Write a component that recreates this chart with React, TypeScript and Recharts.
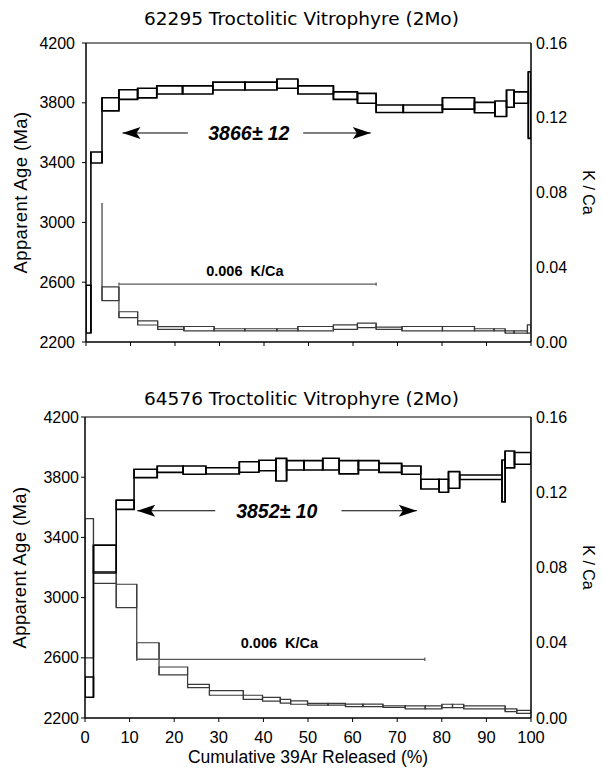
import React from "react";
import {
  ComposedChart,
  XAxis,
  YAxis,
  ReferenceArea,
  ReferenceLine,
  ReferenceDot,
  Label,
} from "recharts";

const FONT = "'Liberation Sans', Arial, sans-serif";
const TITLE_FONT = "'DejaVu Sans', Verdana, sans-serif";

const X_TICKS = [0, 10, 20, 30, 40, 50, 60, 70, 80, 90, 100];
const AGE_TICKS = [2200, 2600, 3000, 3400, 3800, 4200];
const KCA_TICKS = [0, 0.04, 0.08, 0.12, 0.16];

// 62295 - step boundaries (cumulative %), ages (Ma) and errors
const TOP_AGE_X = [0, 1.1, 3.6, 7.4, 11.6, 15.9, 21.7, 28.5, 35.7, 42.9, 47.6, 55.6, 61.0, 65.2, 71.3, 80.1, 87.3, 91.9, 94.5, 96.2, 99.4, 100];
const TOP_AGE = [2420, 3434, 3790, 3855, 3865, 3886, 3886, 3912, 3912, 3928, 3886, 3848, 3830, 3760, 3760, 3796, 3768, 3760, 3828, 3835, 3785];
const TOP_AGE_ERR = [160, 37, 44, 32, 32, 27, 27, 26, 26, 31, 27, 25, 33, 25, 25, 38, 35, 52, 58, 38, 223];
const TOP_KCA_X = [0, 1.1, 3.6, 7.4, 11.6, 16.1, 22.0, 28.8, 35.7, 42.9, 47.6, 55.6, 61.0, 65.2, 71.0, 80.1, 87.3, 91.7, 94.2, 96.2, 99.2, 100];
const TOP_KCA = [null, null, 0.0258, 0.0146, 0.0102, 0.0075, 0.0071, 0.0065, 0.0065, 0.0065, 0.0071, 0.008, 0.0089, 0.0074, 0.0071, 0.0071, 0.0065, 0.0065, 0.0054, 0.0054, 0.007];
const TOP_KCA_ERR = [0, 0, 0.0037, 0.0016, 0.0011, 0.0007, 0.0012, 0.0006, 0.0006, 0.0006, 0.0012, 0.0012, 0.0012, 0.0006, 0.0012, 0.0012, 0.0006, 0.0006, 0.0006, 0.0006, 0.0022];
// off-scale first steps: [x, low, high] on the K/Ca axis
const TOP_KCA_SPIKES = [[3.6, 0.0221, 0.0744]];

// 64576
const BOT_AGE_X = [0, 1.9, 7.0, 11.0, 16.2, 22.0, 27.1, 34.6, 39.0, 42.8, 45.2, 49.1, 53.3, 57.0, 61.3, 65.9, 71.0, 75.3, 79.4, 81.5, 84.0, 93.5, 94.2, 96.3, 100];
const BOT_AGE = [2405, 3256, 3617, 3825, 3853, 3847, 3842, 3868, 3878, 3850, 3879, 3879, 3887, 3866, 3879, 3862, 3847, 3754, 3743, 3782, 3800, 3775, 3918, 3925];
const BOT_AGE_ERR = [67, 93, 31, 28, 21, 27, 21, 35, 35, 75, 31, 31, 39, 44, 31, 30, 27, 32, 43, 55, 15, 139, 56, 39];
const BOT_KCA_X = [0, 1.9, 7.0, 11.6, 16.6, 23.0, 27.9, 35.5, 39.8, 43.8, 46.1, 49.9, 54.5, 58.4, 62.3, 66.8, 71.8, 76.3, 80.0, 82.4, 84.9, 94.2, 96.8, 100];
const BOT_KCA = [0.069, 0.0747, 0.0649, 0.0356, 0.025, 0.017, 0.0133, 0.011, 0.01, 0.0089, 0.0082, 0.0073, 0.0073, 0.0067, 0.0067, 0.0061, 0.0056, 0.0056, 0.0064, 0.0064, 0.0056, 0.0041, 0.0033];
const BOT_KCA_ERR = [0.037, 0.0031, 0.0062, 0.0044, 0.0021, 0.0009, 0.0012, 0.0011, 0.001, 0.001, 0.0009, 0.0005, 0.0005, 0.0007, 0.0007, 0.0004, 0.0008, 0.0008, 0.0009, 0.0009, 0.0008, 0.0007, 0.0008];
const BOT_KCA_SPIKES: number[][] = [];

const PANELS = [
  {
    title: "62295 Troctolitic Vitrophyre (2Mo)",
    ageX: TOP_AGE_X, age: TOP_AGE, ageErr: TOP_AGE_ERR,
    kcaX: TOP_KCA_X, kca: TOP_KCA, kcaErr: TOP_KCA_ERR, spikes: TOP_KCA_SPIKES,
    plateau: "3866\u00b1 12", plateauX: [8.2, 22.9, 36.6, 48.8, 64.0], plateauY: 3598,
    kcaText: "0.006  K/Ca", kcaLine: [7.4, 65.2, 0.031], kcaTextPos: [35.7, 0.038],
  },
  {
    title: "64576 Troctolitic Vitrophyre (2Mo)",
    ageX: BOT_AGE_X, age: BOT_AGE, ageErr: BOT_AGE_ERR,
    kcaX: BOT_KCA_X, kca: BOT_KCA, kcaErr: BOT_KCA_ERR, spikes: BOT_KCA_SPIKES,
    plateau: "3852\u00b1 10", plateauX: [11.7, 29.2, 43.0, 57.5, 74.4], plateauY: 3577,
    kcaText: "0.006  K/Ca", kcaLine: [11.6, 76.2, 0.0312], kcaTextPos: [43.6, 0.0398],
  },
];

function steps(
  xs: number[],
  vals: (number | null)[],
  errs: number[],
  axis: string,
  stroke: string,
  width: number,
  key: string
) {
  const out: React.ReactNode[] = [];
  vals.forEach((v, i) => {
    if (v == null) return;
    out.push(
      <ReferenceArea
        key={`${key}a${i}`}
        yAxisId={axis}
        x1={xs[i]}
        x2={xs[i + 1]}
        y1={v - errs[i]}
        y2={v + errs[i]}
        fill="#fff"
        fillOpacity={0}
        stroke={stroke}
        strokeWidth={width}
        ifOverflow="hidden"
      />
    );
    const n = vals[i + 1];
    if (n != null && i + 1 < vals.length) {
      const lo = Math.min(v - errs[i], n - errs[i + 1]);
      const hi = Math.max(v + errs[i], n + errs[i + 1]);
      out.push(
        <ReferenceLine
          key={`${key}c${i}`}
          yAxisId={axis}
          segment={[{ x: xs[i + 1], y: lo }, { x: xs[i + 1], y: hi }]}
          stroke={stroke}
          strokeWidth={width}
          ifOverflow="hidden"
        />
      );
    }
  });
  return out;
}

const leftArrow = (p: any) => (
  <path d={`M${p.cx},${p.cy} l18,-6 l-4,6 l4,6 z`} fill="#000" />
);
const rightArrow = (p: any) => (
  <path d={`M${p.cx},${p.cy} l-18,-6 l4,6 l-4,6 z`} fill="#000" />
);

function Panel({ p, bottom }: { p: (typeof PANELS)[number]; bottom: boolean }) {
  const [a0, a1, tx, a2, a3] = p.plateauX;
  const [k0, k1, ky] = p.kcaLine;
  return (
    <ComposedChart
      width={603}
      height={bottom ? 392 : 360}
      margin={bottom ? { top: 37, right: 12, left: 9, bottom: 8 } : { top: 43, right: 12, left: 10, bottom: 8 }}
    >
      <XAxis
        type="number"
        dataKey="x"
        domain={[0, 100]}
        ticks={X_TICKS}
        allowDataOverflow
        height={bottom ? 46 : 10}
        tickSize={4}
        tickMargin={bottom ? 9 : 0}
        stroke="#000"
        tick={{ fontSize: 16.5, fill: "#000", fontFamily: FONT }}
        tickFormatter={(v) => (bottom ? String(v) : "")}
      >
        {bottom && (
          <Label
            value="Cumulative 39Ar Released (%)"
            position="insideBottom"
            offset={1}
            style={{ fontSize: 17.5, fill: "#000", fontFamily: FONT }}
          />
        )}
      </XAxis>
      <YAxis
        yAxisId="age"
        type="number"
        domain={[2200, 4200]}
        ticks={AGE_TICKS}
        allowDataOverflow
        width={76}
        tickSize={4}
        tickMargin={bottom ? 2 : 7}
        stroke="#000"
        tick={{ fontSize: 16, fill: "#000", fontFamily: FONT }}
      >
        <Label
          value="Apparent Age (Ma)"
          angle={-90}
          position="insideLeft"
          offset={10}
          style={{ fontSize: 18.5, letterSpacing: 0.4, fill: "#000", fontFamily: FONT, textAnchor: "middle" }}
        />
      </YAxis>
      <YAxis
        yAxisId="kca"
        orientation="right"
        type="number"
        domain={[0, 0.16]}
        ticks={KCA_TICKS}
        allowDataOverflow
        width={60}
        tickSize={0}
        tickMargin={5}
        stroke="#000"
        tick={{ fontSize: 16, fill: "#000", fontFamily: FONT }}
        tickFormatter={(v) => v.toFixed(2)}
      >
        <Label
          value="K / Ca"
          angle={90}
          position="insideRight"
          offset={2}
          style={{ fontSize: 16, fill: "#000", fontFamily: FONT, textAnchor: "middle", whiteSpace: "pre" }}
        />
      </YAxis>
      <ReferenceArea
        yAxisId="age"
        x1={0}
        x2={100}
        y1={2200}
        y2={4200}
        fill="none"
        stroke="#000"
        strokeWidth={1}
        ifOverflow="visible"
      />
      {steps(p.kcaX, p.kca, p.kcaErr, "kca", "#3a3a3a", 1.2, "k")}
      {p.spikes.map(([x, lo, hi], i) => (
        <ReferenceLine
          key={`s${i}`}
          yAxisId="kca"
          segment={[{ x, y: lo }, { x, y: hi }]}
          stroke="#3a3a3a"
          strokeWidth={1.2}
        />
      ))}
      {steps(p.ageX, p.age, p.ageErr, "age", "#000", 1.6, "g")}
      <ReferenceLine yAxisId="age" segment={[{ x: a0, y: p.plateauY }, { x: a1, y: p.plateauY }]} stroke="#000" strokeWidth={1} />
      <ReferenceLine yAxisId="age" segment={[{ x: a2, y: p.plateauY }, { x: a3, y: p.plateauY }]} stroke="#000" strokeWidth={1} />
      <ReferenceDot yAxisId="age" x={a0} y={p.plateauY} r={0} shape={leftArrow} />
      <ReferenceDot yAxisId="age" x={a3} y={p.plateauY} r={0} shape={rightArrow} />
      <ReferenceDot
        yAxisId="age"
        x={tx}
        y={p.plateauY}
        r={0}
        shape={(d: any) => (
          <text
            x={d.cx}
            y={d.cy + 7}
            textAnchor="middle"
            fontFamily={FONT}
            fontSize={19.5}
            fontWeight="bold"
            fontStyle="italic"
          >
            {p.plateau}
          </text>
        )}
      />
      <ReferenceLine yAxisId="kca" segment={[{ x: k0, y: ky }, { x: k1, y: ky }]} stroke="#5a5a5a" strokeWidth={1.2} />
      <ReferenceLine yAxisId="kca" segment={[{ x: k0, y: ky - 0.0009 }, { x: k0, y: ky + 0.0009 }]} stroke="#5a5a5a" strokeWidth={1.2} />
      <ReferenceLine yAxisId="kca" segment={[{ x: k1, y: ky - 0.0009 }, { x: k1, y: ky + 0.0009 }]} stroke="#5a5a5a" strokeWidth={1.2} />
      <ReferenceDot
        yAxisId="kca"
        x={p.kcaTextPos[0]}
        y={p.kcaTextPos[1]}
        r={0}
        shape={(d: any) => (
          <text
            x={d.cx}
            y={d.cy + 5}
            textAnchor="middle"
            fontFamily={FONT}
            fontSize={14.5}
            fontWeight="bold"
            style={{ whiteSpace: "pre" }}
          >
            {p.kcaText}
          </text>
        )}
      />
    </ComposedChart>
  );
}

export default function App() {
  return (
    <div style={{ position: "absolute", left: 0, top: 0, width: 603, height: 772, background: "#fff" }}>
      <div style={{ position: "absolute", left: 0, top: 0, width: 603 }}>
        <Panel p={PANELS[0]} bottom={false} />
      </div>
      <div style={{ position: "absolute", left: 0, top: 380, width: 603 }}>
        <Panel p={PANELS[1]} bottom={true} />
      </div>
      {PANELS.map((p, i) => (
        <div
          key={i}
          style={{
            position: "absolute",
            left: 0,
            width: 603,
            top: i === 0 ? 8 : 388,
            textAlign: "center",
            fontFamily: TITLE_FONT,
            fontSize: 18.5,
            lineHeight: "22px",
            color: "#000",
          }}
        >
          {p.title}
        </div>
      ))}
    </div>
  );
}
